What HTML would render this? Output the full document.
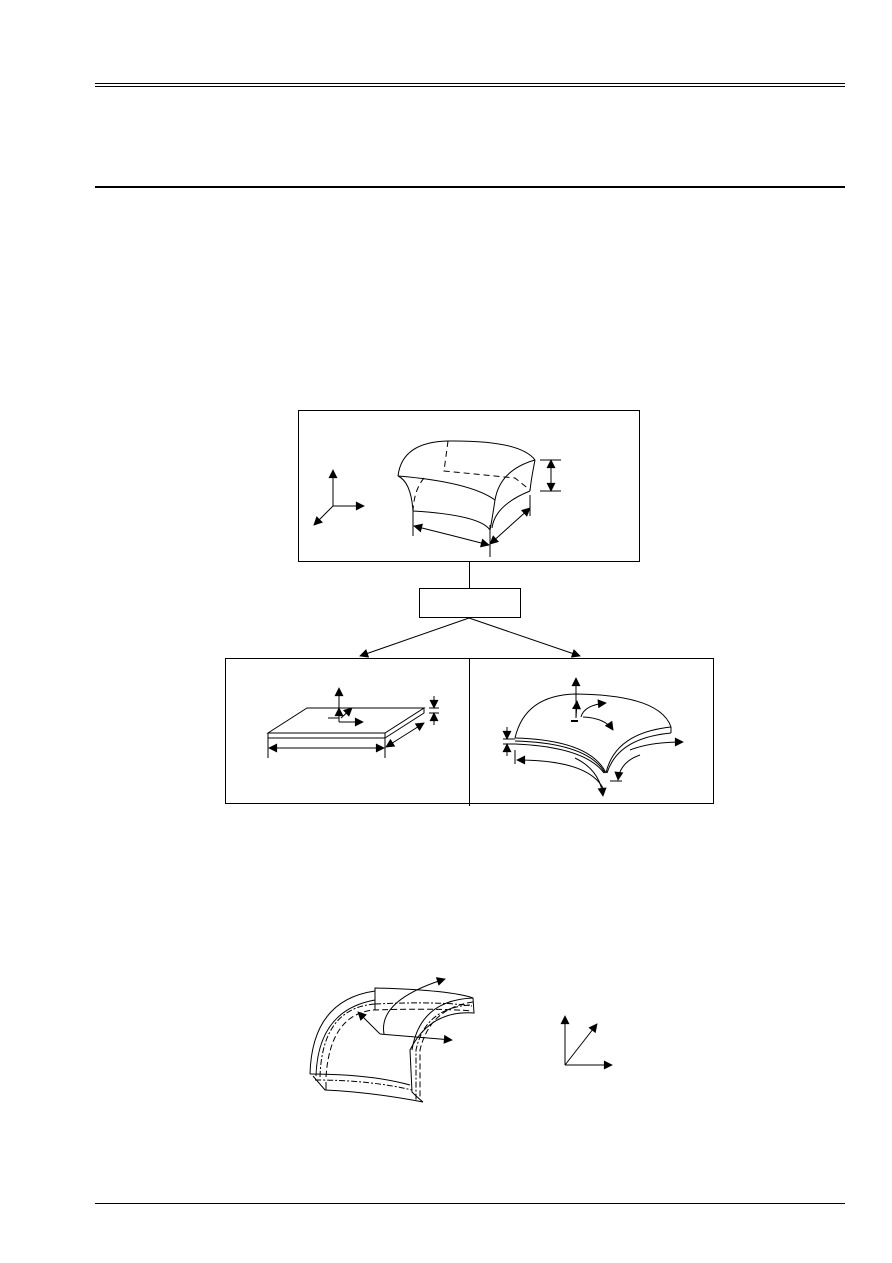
<!DOCTYPE html>
<html><head><meta charset="utf-8"><style>
html,body{margin:0;padding:0;background:#fff}
svg{display:block}
</style></head><body>
<svg width="892" height="1263" viewBox="0 0 892 1263" xmlns="http://www.w3.org/2000/svg">
<defs>
<marker id="a" viewBox="0 0 10 10" refX="9" refY="5" markerWidth="11" markerHeight="9" markerUnits="userSpaceOnUse" orient="auto"><path d="M0,0 L10,5 L0,10 z" fill="#000"/></marker>
</defs>
<g stroke="#000" fill="none" stroke-width="1">
<line x1="95" y1="83.5" x2="845" y2="83.5"/>
<line x1="95" y1="86.5" x2="845" y2="86.5"/>
<line x1="95" y1="187" x2="845" y2="187" stroke-width="2"/>
<line x1="95" y1="1203.5" x2="845" y2="1203.5"/>

<rect x="298.5" y="410.5" width="341" height="151"/>
<line x1="469.5" y1="561" x2="469.5" y2="588"/>
<rect x="419.5" y="588.5" width="101" height="29"/>
<line x1="469" y1="618" x2="360" y2="656" marker-end="url(#a)"/>
<line x1="469" y1="618" x2="580" y2="656" marker-end="url(#a)"/>
<rect x="225.5" y="658.5" width="488" height="145"/>
<line x1="469.5" y1="658" x2="469.5" y2="806"/>

<!-- top figure -->
<path d="M398,476 Q402,442 448,441 Q520,440 535,460"/>
<path d="M448,441 L444,471 L515,478 L530,490" stroke-dasharray="6,4"/>
<path d="M424,478 Q414,490 413,511" stroke-dasharray="6,4"/>
<path d="M398,476 Q470,482 495,500"/>
<path d="M398,476 Q411,482 413,511 L413,511"/>
<path d="M413,511 Q480,515 490,530"/>
<path d="M535,460 Q531,480 530,491"/>
<path d="M535,460 Q500,470 495,500 Q492,520 490,530"/>
<path d="M530,491 Q495,505 492,528"/>
<line x1="540" y1="460" x2="561" y2="460"/><line x1="540" y1="491" x2="561" y2="491"/>
<line x1="551" y1="476" x2="551" y2="460" marker-end="url(#a)"/>
<line x1="551" y1="476" x2="551" y2="491" marker-end="url(#a)"/>
<line x1="413" y1="511" x2="413" y2="536"/>
<line x1="490" y1="525" x2="490" y2="557"/>
<line x1="530" y1="495" x2="530" y2="516"/>
<line x1="450" y1="535" x2="414" y2="526" marker-end="url(#a)"/>
<line x1="450" y1="535" x2="489" y2="545" marker-end="url(#a)"/>
<line x1="510" y1="526" x2="490" y2="544" marker-end="url(#a)"/>
<line x1="510" y1="526" x2="530" y2="508" marker-end="url(#a)"/>
<line x1="333" y1="506" x2="333" y2="470" marker-end="url(#a)"/>
<line x1="333" y1="506" x2="364" y2="506" marker-end="url(#a)"/>
<line x1="333" y1="506" x2="314" y2="525" marker-end="url(#a)"/>

<!-- lower left plate -->
<path d="M268,733 L307,708 L424,708 L385,733 Z"/>
<rect x="268" y="733" width="117" height="5"/>
<path d="M385,738 L424,713 L424,708"/>
<line x1="268" y1="738" x2="268" y2="758"/>
<line x1="385" y1="738" x2="385" y2="758"/>
<line x1="326" y1="748" x2="269" y2="748" marker-end="url(#a)"/>
<line x1="326" y1="748" x2="384" y2="748" marker-end="url(#a)"/>
<line x1="405" y1="735" x2="386" y2="747" marker-end="url(#a)"/>
<line x1="405" y1="735" x2="424" y2="723" marker-end="url(#a)"/>
<line x1="429" y1="708" x2="439" y2="708"/><line x1="429" y1="713" x2="439" y2="713"/>
<line x1="434" y1="696" x2="434" y2="708" marker-end="url(#a)"/>
<line x1="434" y1="725" x2="434" y2="713" marker-end="url(#a)"/>
<line x1="339" y1="722" x2="339" y2="688" marker-end="url(#a)"/>
<line x1="339" y1="722" x2="339" y2="708" marker-end="url(#a)"/>
<line x1="339" y1="722" x2="363" y2="722" marker-end="url(#a)"/>
<line x1="328" y1="718" x2="339" y2="718"/>
<line x1="341" y1="718" x2="352" y2="708" marker-end="url(#a)"/>

<!-- lower right shell -->
<path d="M515,738 Q525,695 576,694 Q660,695 671,727 L671,733"/>
<path d="M503,739 L515,739"/><path d="M503,744 L515,744"/>
<path d="M515,738 Q590,740 606,773"/>
<path d="M515,741 Q588,743 605,773"/>
<path d="M515,744 Q585,747 604,773"/>
<path d="M606,773 Q615,733 671,727"/>
<path d="M607,773 Q618,738 671,733"/>
<line x1="507" y1="727" x2="507" y2="739" marker-end="url(#a)"/>
<line x1="507" y1="756" x2="507" y2="744" marker-end="url(#a)"/>
<line x1="515" y1="750" x2="515" y2="764"/>
<path d="M604,790 Q590,760 517,760" marker-end="url(#a)"/>
<path d="M575,758 Q600,770 603,796" marker-end="url(#a)"/>
<path d="M640,755 Q620,762 618,780" marker-end="url(#a)"/>
<path d="M630,750 Q650,742 683,742" marker-end="url(#a)"/>
<line x1="610" y1="781" x2="622" y2="781"/>
<line x1="576" y1="718" x2="576" y2="678" marker-end="url(#a)"/>
<line x1="576" y1="718" x2="577" y2="701" marker-end="url(#a)"/>
<path d="M581,717 Q584,705 606,703" marker-end="url(#a)"/>
<path d="M583,717 Q605,718 613,730" marker-end="url(#a)"/>
<line x1="571" y1="721" x2="578" y2="721" stroke-width="2"/>

<!-- bottom figure -->
<path d="M310,1074 Q312,1000 375,991 L375,988 Q450,990 473,998 L474,1013 Q430,1010 410,1050 L412,1092 Q418,1098 423,1102"/>
<path d="M316,1076 Q318,1010 375,1000"/>
<path d="M326,1077 Q330,1015 373,1010" stroke-dasharray="6,3"/>
<path d="M320,1077 Q322,1008 375,1004" stroke-dasharray="6,2,2,2"/>
<path d="M375,1004 Q440,1001 472,1006" stroke-dasharray="6,2,2,2"/>
<path d="M373,1010 Q440,1008 472,1011" stroke-dasharray="6,3"/>
<path d="M375,988 L375,1010"/>
<path d="M473,998 Q420,1000 412,1050"/>
<path d="M473,1002 Q430,1008 420,1050 L420,1100" stroke-dasharray="6,3"/>
<path d="M470,1005 Q425,1008 416,1050 L416,1100" stroke-dasharray="6,2,2,2"/>
<path d="M310,1074 Q370,1074 410,1085"/>
<path d="M315,1080 Q370,1080 412,1090" stroke-dasharray="6,2,2,2"/>
<path d="M313,1076 L325,1090 Q370,1092 423,1102"/>
<line x1="326" y1="1082" x2="326" y2="1090"/>
<path d="M384,1034 Q378,1000 445,979" marker-end="url(#a)"/>
<line x1="380" y1="1034" x2="358" y2="1012" marker-end="url(#a)"/>
<line x1="380" y1="1034" x2="452" y2="1040" marker-end="url(#a)"/>
<line x1="565" y1="1065" x2="565" y2="1016" marker-end="url(#a)"/>
<line x1="565" y1="1065" x2="612" y2="1065" marker-end="url(#a)"/>
<line x1="565" y1="1065" x2="597" y2="1024" marker-end="url(#a)"/>
</g>
</svg>
</body></html>
